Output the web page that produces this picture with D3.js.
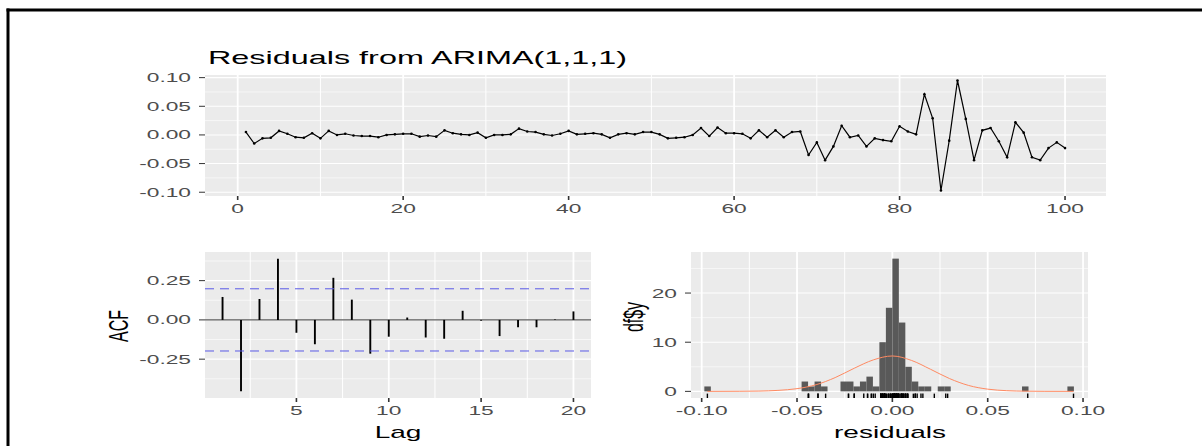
<!DOCTYPE html>
<html>
<head>
<meta charset="utf-8">
<script src="https://cdn.jsdelivr.net/npm/d3@7"></script>
<style>
  body { margin: 0; background: #fff; }
  svg { display: block; font-family: "Liberation Sans", Arial, sans-serif; }
</style>
</head>
<body>
<svg id="fig" width="1202" height="446"></svg>
<script>
// residuals of the ARIMA(1,1,1) fit, t = 1..100
const residuals = [
  0.005, -0.015, -0.006, -0.005, 0.007, 0.002, -0.004, -0.005, 0.003, -0.006,
  0.007, 0.000, 0.002, -0.001, -0.002, -0.002, -0.004, 0.000, 0.001, 0.002,
  0.002, -0.003, -0.001, -0.003, 0.008, 0.003, 0.001, 0.000, 0.004, -0.005,
  0.000, 0.000, 0.001, 0.011, 0.006, 0.005, 0.001, -0.001, 0.002, 0.007,
  0.001, 0.002, 0.003, 0.001, -0.005, 0.001, 0.003, 0.001, 0.005, 0.005,
  0.001, -0.006, -0.005, -0.004, 0.000, 0.012, -0.002, 0.013, 0.003, 0.003,
  0.002, -0.006, 0.008, -0.004, 0.008, -0.004, 0.005, 0.006, -0.035, -0.013,
  -0.044, -0.020, 0.016, -0.004, -0.001, -0.020, -0.006, -0.009, -0.011, 0.015,
  0.006, 0.001, 0.071, 0.029, -0.097, -0.010, 0.095, 0.028, -0.044, 0.008,
  0.012, -0.011, -0.039, 0.022, 0.004, -0.039, -0.044, -0.023, -0.013, -0.023
];

const acf_lags = [1, 2, 3, 4, 5, 6, 7, 8, 9, 10, 11, 12, 13, 14, 15, 16, 17, 18, 19, 20];
const acf_values = [0.146, -0.455, 0.133, 0.390, -0.082, -0.155, 0.268, 0.129, -0.215, -0.107,
                    0.015, -0.112, -0.120, 0.058, -0.005, -0.103, -0.047, -0.047, 0.003, 0.054];
const acf_ci = 0.198;

// histogram of residuals: bin lower edges and counts
const hist_bin_width = 0.0034;
const hist_bin_starts = [-0.0986, -0.0476, -0.0442, -0.0408, -0.0374, -0.0272, -0.0238, -0.0204,
                         -0.0170, -0.0136, -0.0102, -0.0068, -0.0034, 0.0000, 0.0034, 0.0068,
                         0.0102, 0.0136, 0.0170, 0.0238, 0.0272, 0.0680, 0.0918];
const hist_counts = [1, 2, 1, 2, 1, 2, 2, 1, 2, 3, 1, 10, 17, 27, 14, 5, 2, 1, 1, 1, 1, 1, 1];

// fitted normal curve
const normal_x = [-0.097, -0.08, -0.07, -0.06, -0.05, -0.04, -0.03, -0.02, -0.01, 0.0,
                  0.01, 0.02, 0.03, 0.04, 0.05, 0.06, 0.07, 0.08, 0.095];
const normal_y = [0.00, 0.02, 0.06, 0.20, 0.55, 1.35, 2.80, 4.70, 6.40, 7.20,
                  6.30, 4.50, 2.60, 1.20, 0.45, 0.14, 0.04, 0.01, 0.00];

const ts_xticks = [0, 20, 40, 60, 80, 100];
const ts_yticks = [-0.10, -0.05, 0.00, 0.05, 0.10];
const acf_xticks = [5, 10, 15, 20];
const acf_yticks = [-0.25, 0.00, 0.25];
const hist_xticks = [-0.10, -0.05, 0.00, 0.05, 0.10];
const hist_yticks = [0, 10, 20];

const sx = 1.75;   // the picture is stretched sideways, text too
const svg = d3.select('#fig');

// plain hyphen minus, like R prints it
const fmt2 = d => (Math.abs(d) < 1e-9 ? 0 : d).toFixed(2);
const fmt0 = d => d.toFixed(0);

// frame round the picture (top and left only)
svg.append('line').attr('x1', 6.5).attr('x2', 1202).attr('y1', 10).attr('y2', 10)
    .attr('stroke', '#000').attr('stroke-width', 3);
svg.append('line').attr('x1', 8).attr('x2', 8).attr('y1', 8.5).attr('y2', 446)
    .attr('stroke', '#000').attr('stroke-width', 3);

const stext = (g, x, y, txt, size, anchor, fill) => g.append('text')
    .attr('transform', `translate(${x},${y}) scale(${sx},1)`)
    .attr('text-anchor', anchor)
    .attr('font-size', size)
    .attr('fill', fill)
    .text(txt);

// expanded domain, the ggplot way
const expand = ext => {
  const pad = (ext[1] - ext[0]) * 0.05;
  return [ext[0] - pad, ext[1] + pad];
};

// minor breaks: midpoints between majors, plus one step out each side
const minors = (majors, dom) => {
  const step = majors[1] - majors[0];
  const out = [majors[0] - step / 2];
  majors.forEach(m => out.push(m + step / 2));
  return out.filter(v => v > dom[0] && v < dom[1]);
};

const draw_panel = function(x, y, xticks, yticks, xfmt, yfmt) {
  const g = svg.append('g');
  const [x0, x1] = x.range();
  const [y1, y0] = y.range();
  g.append('rect').attr('x', x0).attr('y', y0).attr('width', x1 - x0).attr('height', y1 - y0)
      .attr('fill', '#ebebeb');

  g.selectAll('.hmin').data(minors(yticks, y.domain())).join('line')
      .attr('x1', x0).attr('x2', x1).attr('y1', d => y(d)).attr('y2', d => y(d))
      .attr('stroke', '#fff').attr('stroke-width', 0.6);
  g.selectAll('.vmin').data(minors(xticks, x.domain())).join('line')
      .attr('y1', y0).attr('y2', y1).attr('x1', d => x(d)).attr('x2', d => x(d))
      .attr('stroke', '#fff').attr('stroke-width', 1);
  g.selectAll('.hmaj').data(yticks).join('line')
      .attr('x1', x0).attr('x2', x1).attr('y1', d => y(d)).attr('y2', d => y(d))
      .attr('stroke', '#fff').attr('stroke-width', 1.1);
  g.selectAll('.vmaj').data(xticks).join('line')
      .attr('y1', y0).attr('y2', y1).attr('x1', d => x(d)).attr('x2', d => x(d))
      .attr('stroke', '#fff').attr('stroke-width', 1.8);

  // ticks and labels
  xticks.forEach(t => {
    g.append('line').attr('x1', x(t)).attr('x2', x(t)).attr('y1', y1).attr('y2', y1 + 4)
        .attr('stroke', '#333').attr('stroke-width', 1.6);
    stext(g, x(t), y1 + 17, xfmt(t), 13, 'middle', '#4d4d4d');
  });
  yticks.forEach(t => {
    g.append('line').attr('x1', x0 - 6).attr('x2', x0).attr('y1', y(t)).attr('y2', y(t))
        .attr('stroke', '#333').attr('stroke-width', 1);
    stext(g, x0 - 14, y(t), yfmt(t), 13, 'end', '#4d4d4d').attr('dy', '0.35em');
  });
  return g;
};

// ---- top: residual series ----
const ts_x = d3.scaleLinear().domain(expand([1, residuals.length])).range([205, 1106]);
const ts_y = d3.scaleLinear().domain(expand(d3.extent(residuals))).range([196, 75]);
const ts_g = draw_panel(ts_x, ts_y, ts_xticks, ts_yticks, fmt0, fmt2);

const ts_line = d3.line()
    .x((d, i) => ts_x(i + 1))
    .y(d => ts_y(d));
ts_g.append('path').datum(residuals).attr('d', ts_line)
    .attr('fill', 'none').attr('stroke', '#000').attr('stroke-width', 1.2);
ts_g.selectAll('.pt').data(residuals).join('circle')
    .attr('cx', (d, i) => ts_x(i + 1)).attr('cy', d => ts_y(d)).attr('r', 1.3).attr('fill', '#000');

stext(svg, 208, 64, 'Residuals from ARIMA(1,1,1)', 18.5, 'start', '#000');

// ---- bottom left: ACF ----
const acf_x = d3.scaleLinear().domain(expand(d3.extent(acf_lags))).range([205, 591]);
const acf_y = d3.scaleLinear().domain(expand(d3.extent(acf_values))).range([398, 252]);
const acf_g = draw_panel(acf_x, acf_y, acf_xticks, acf_yticks, fmt0, fmt2);

acf_g.append('line').attr('x1', 205).attr('x2', 591).attr('y1', acf_y(0)).attr('y2', acf_y(0))
    .attr('stroke', '#333').attr('stroke-width', 1);
acf_g.selectAll('.spike').data(acf_values).join('line')
    .attr('x1', (d, i) => acf_x(acf_lags[i])).attr('x2', (d, i) => acf_x(acf_lags[i]))
    .attr('y1', acf_y(0)).attr('y2', d => acf_y(d))
    .attr('stroke', '#000').attr('stroke-width', 1.9);
acf_g.selectAll('.ci').data([acf_ci, -acf_ci]).join('line')
    .attr('x1', 205).attr('x2', 591).attr('y1', d => acf_y(d)).attr('y2', d => acf_y(d))
    .attr('stroke', '#5a5ae6').attr('stroke-width', 1).attr('stroke-dasharray', '9,6');

stext(svg, 398, 438, 'Lag', 16, 'middle', '#000');
svg.append('text')
    .attr('transform', `translate(118,326) scale(${sx},1) rotate(-90)`)
    .attr('text-anchor', 'middle').attr('dy', '0.35em').attr('font-size', 16).attr('fill', '#000')
    .text('ACF');

// ---- bottom right: histogram ----
const hist_x = d3.scaleLinear().domain([-0.1056, 0.1026]).range([691, 1088]);
const hist_y = d3.scaleLinear().domain(expand([0, d3.max(hist_counts)])).range([398, 252]);
const hist_g = draw_panel(hist_x, hist_y, hist_xticks, hist_yticks, fmt2, fmt0);

hist_g.selectAll('.bar').data(hist_counts).join('rect')
    .attr('x', (d, i) => hist_x(hist_bin_starts[i]))
    .attr('width', (d, i) => hist_x(hist_bin_starts[i] + hist_bin_width) - hist_x(hist_bin_starts[i]))
    .attr('y', d => hist_y(d))
    .attr('height', d => hist_y(0) - hist_y(d))
    .attr('fill', '#595959');

const normal_line = d3.line()
    .x((d, i) => hist_x(normal_x[i]))
    .y(d => hist_y(d))
    .curve(d3.curveMonotoneX);
hist_g.append('path').datum(normal_y).attr('d', normal_line)
    .attr('fill', 'none').attr('stroke', '#ff8a62').attr('stroke-width', 1);

const rug_len = (398 - 252) * 0.03;
hist_g.selectAll('.rug').data(residuals).join('line')
    .attr('x1', d => hist_x(d)).attr('x2', d => hist_x(d))
    .attr('y1', 398).attr('y2', 398 - rug_len)
    .attr('stroke', '#000').attr('stroke-width', 1.4);

stext(svg, 890, 438, 'residuals', 16, 'middle', '#000');
svg.append('text')
    .attr('transform', `translate(633,317) scale(${sx},1) rotate(-90)`)
    .attr('text-anchor', 'middle').attr('dy', '0.35em').attr('font-size', 16).attr('fill', '#000')
    .text('df$y');
</script>
</body>
</html>
